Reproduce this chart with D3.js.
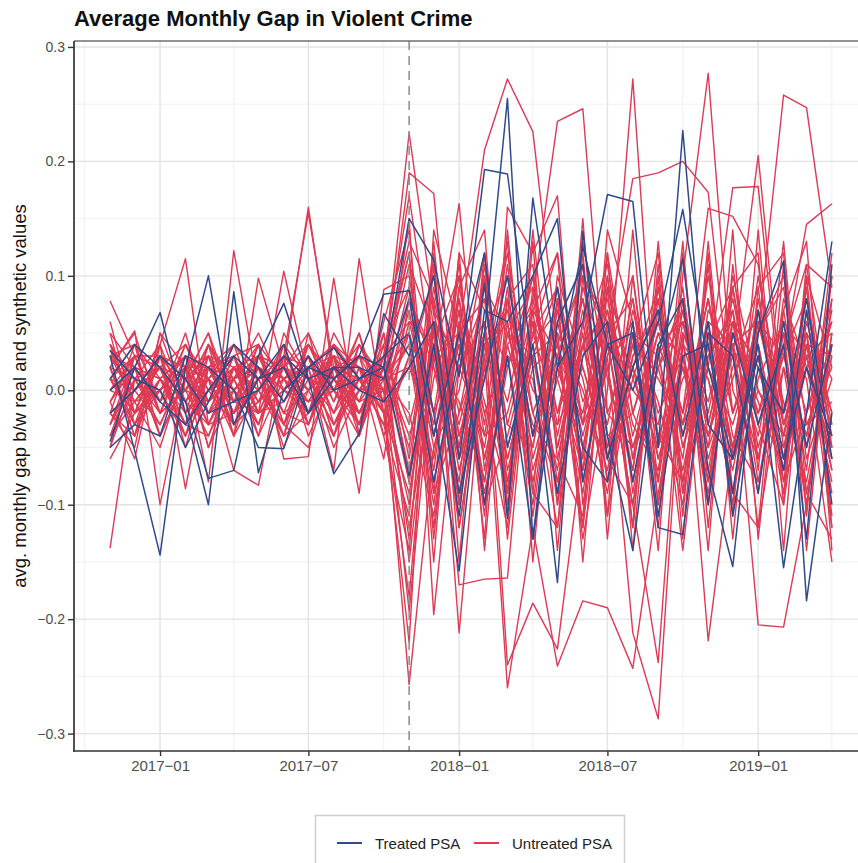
<!DOCTYPE html>
<html>
<head>
<meta charset="utf-8">
<script src="https://cdn.jsdelivr.net/npm/d3@7"></script>
<style>
body { margin: 0; background: #fff; }
svg { display: block; font-family: "Liberation Sans", Arial, sans-serif; }
</style>
</head>
<body>
<svg id="chart" width="858" height="863"></svg>
<script>
var months = ["2016-11","2016-12","2017-01","2017-02","2017-03","2017-04","2017-05","2017-06",
    "2017-07","2017-08","2017-09","2017-10","2017-11","2017-12","2018-01","2018-02","2018-03",
    "2018-04","2018-05","2018-06","2018-07","2018-08","2018-09","2018-10","2018-11","2018-12",
    "2019-01","2019-02","2019-03","2019-04"];

// treated PSAs (blue)
var treated = [
    [.03,-.053,-.144,.02,.10,-.03,.01,.04,-.02,.01,.03,.084,.087,-.02,-.158,.05,.255,-.13,.02,.06,.171,.165,-.05,.227,-.03,-.06,.04,-.155,-.02,.13],
    [-.045,.02,.068,-.02,-.10,.086,-.072,.00,.02,.037,.01,.02,.15,.114,.012,.193,.189,.02,-.168,.139,-.04,-.14,.03,.115,-.07,-.154,.05,.113,-.184,-.02],
    [.01,.04,.02,-.01,-.077,-.07,.03,.076,.01,-.073,-.038,.067,.03,.10,-.06,.093,-.112,.168,.02,.125,.04,.00,.06,.158,.02,-.06,.03,-.07,.07,-.10],
    [-.05,-.03,-.04,.03,.02,.00,-.05,-.051,.02,.01,.03,.02,-.075,.04,-.11,.07,.06,.10,.15,-.08,.04,.05,-.12,-.126,.05,.03,-.09,.06,-.05,.04],
    [.00,.02,-.01,-.03,.00,.03,.01,.02,-.02,.02,.02,.01,.08,-.04,.05,-.10,.03,-.13,.06,.11,-.06,.02,.07,-.04,.06,-.11,.02,-.02,.08,-.06],
    [.035,.01,.00,-.05,-.01,.04,.02,-.01,.03,.00,.01,.03,.05,-.08,.03,.12,-.05,.04,-.09,.03,.06,-.08,.04,.08,-.10,.05,-.03,.04,-.13,.11],
    [-.02,.00,.03,.01,-.02,-.01,.00,.03,.01,.02,.00,-.01,.02,.06,-.09,.01,.10,-.04,.09,-.05,-.08,.06,-.11,.03,.04,-.09,.07,-.06,.02,-.04]
];

// untreated PSAs (red)
var untreated = [
    [.078,.03,-.02,.04,.01,-.03,.02,.00,.03,-.02,.01,.02,.225,.07,-.05,.10,-.03,.06,-.08,.04,.11,-.02,-.07,.05,.01,-.09,.06,.03,-.04,.08],
    [-.138,.01,.02,-.03,.04,.00,-.02,.03,.01,.02,-.01,.00,-.257,-.05,.04,-.08,.05,.03,-.07,.09,.02,-.10,.04,-.02,.08,-.06,.00,-.05,.04,.03],
    [.06,-.02,.04,.115,-.03,.02,.01,-.04,.05,.00,.03,.02,.19,.172,-.06,.03,-.26,-.12,-.241,-.184,-.19,-.243,-.09,.03,-.09,.04,.06,-.03,.02,-.08],
    [.02,.052,-.10,.01,.03,-.04,.098,.02,-.03,.04,.00,.01,-.193,.03,.163,-.07,.05,.09,-.02,.04,-.06,.02,.09,-.04,.03,.06,-.08,.02,-.10,.05],
    [-.01,-.06,.04,-.086,.02,.03,-.02,.104,.01,-.03,.02,-.01,.15,-.196,.02,.06,-.24,-.186,-.226,-.05,.04,-.08,.02,.06,-.05,.01,.07,-.04,.03,-.06],
    [.04,.01,-.03,.02,-.08,.122,.00,.02,.16,.01,-.02,.03,.13,.08,-.212,.04,.07,-.04,.03,.10,.06,-.05,.02,-.07,.04,.09,-.03,.05,-.02,.04],
    [.00,.03,.02,-.01,.01,-.07,-.083,.03,.155,.02,.01,-.02,-.22,.14,.05,.21,.272,.226,.04,-.03,.12,-.02,.06,-.03,.02,-.05,.04,-.07,.05,.01],
    [.03,-.01,.00,.03,-.02,.01,.04,-.06,-.058,.098,-.04,.02,.12,-.15,.12,.07,.02,.08,.235,.246,-.02,.04,-.06,.02,-.04,.05,-.02,.06,.03,-.07],
    [-.03,.02,.01,-.04,.03,.02,-.01,.01,.02,-.07,.115,-.02,-.18,.06,-.17,-.165,-.164,.08,-.03,.02,-.06,.05,.01,-.03,.08,-.02,.06,-.04,-.03,.02],
    [.01,-.03,.03,.02,-.01,.04,.02,.00,-.02,.03,-.09,.088,.10,-.04,.07,-.13,.16,.12,.17,-.10,.03,-.212,-.287,.04,-.03,.07,-.05,.03,.08,-.04],
    [.02,.01,-.02,.03,.00,-.03,.01,.02,.00,.04,.02,-.06,.08,.02,-.05,.04,-.06,.03,.05,-.13,.00,.272,-.05,.02,-.04,.06,.02,-.06,.03,.05],
    [-.02,.04,.01,-.01,.02,.00,-.03,.02,.04,-.01,.03,.01,.05,-.07,.09,-.02,.03,-.10,.06,-.04,.05,.185,.19,.20,.173,-.02,.04,-.07,.02,-.03],
    [.01,-.02,.03,.00,-.04,.02,.03,-.01,.02,.01,-.03,.04,-.15,.04,-.03,.06,-.08,.05,-.02,.08,-.06,-.10,-.238,.05,-.219,-.05,.03,-.08,.06,-.02],
    [.05,.02,-.04,.01,.03,-.02,.00,.04,-.03,.02,.00,.03,.17,.02,-.08,.11,-.05,.03,.09,-.07,.02,.06,-.12,.10,.277,.00,-.06,.04,-.09,.03],
    [-.04,.00,.02,-.03,.01,.04,-.02,.03,.00,-.04,.02,.00,-.10,.06,.03,-.05,.08,-.02,.04,.10,-.08,.03,.07,-.05,.02,.177,.178,-.03,.05,-.07],
    [.03,.04,-.01,.02,-.05,.00,.03,.01,-.02,.05,.01,-.03,.06,-.03,.10,-.06,.04,.07,-.10,.03,.08,-.04,.05,-.02,.159,.152,.11,-.05,.02,.06],
    [-.02,-.04,.03,.00,.02,-.01,.04,-.03,.01,.00,-.02,.02,-.05,.09,-.04,.02,-.09,.05,.12,-.03,.07,-.06,.02,.08,-.04,.03,.205,-.02,.04,-.05],
    [.00,.02,-.01,.05,-.02,.03,-.04,.01,.03,-.02,.04,.01,.04,-.08,.02,.08,-.03,-.05,.07,.01,-.09,.05,.03,-.06,.10,-.02,.05,.258,.247,.09],
    [.02,-.03,.01,-.02,.04,.01,.02,-.05,.00,.03,-.01,.02,-.04,.03,-.09,.05,.10,-.04,.02,-.06,.09,.01,-.05,.07,-.03,.06,-.02,.03,.145,.163],
    [-.05,.01,.00,.02,-.03,-.02,.01,.03,-.04,.01,.03,-.04,.03,-.10,.06,-.02,-.12,.09,-.05,.04,-.03,.08,-.04,.02,-.07,.04,-.205,-.207,-.10,.05],
    [.035,-.01,.02,-.04,.00,.03,-.01,.02,.01,-.03,.00,.01,.11,.05,-.10,.03,.06,-.08,.03,-.02,.10,-.09,.04,-.14,.05,-.05,.07,-.01,-.08,.04],
    [.01,.00,-.03,.02,.03,-.02,.02,-.02,.04,.00,-.03,.03,-.07,.03,.05,-.09,.02,.10,-.04,.07,-.05,.02,-.08,.06,-.02,.09,-.06,.05,.01,-.15],
    [-.01,.03,.02,-.01,-.03,.01,.05,.00,-.01,.02,.02,-.02,.02,.10,-.04,.05,-.06,.03,-.09,.13,.01,-.07,.08,-.03,.06,-.05,.03,-.09,.07,-.02],
    [.04,-.02,.00,.03,.01,-.04,.00,.02,.05,-.03,.01,.00,-.12,.01,.08,-.03,.11,-.06,.02,-.05,.06,.00,-.03,.09,-.08,.04,-.04,.07,-.05,.10],
    [-.03,.01,.04,-.02,.00,.02,-.03,.04,-.02,.01,.04,-.01,.07,-.05,.00,.12,-.10,.04,.07,-.08,.03,.10,-.06,.01,.05,-.10,.08,-.03,.03,-.06],
    [.02,.05,-.02,.00,.04,-.01,.01,-.03,.02,.04,-.02,.03,-.03,.06,-.07,.02,.08,-.11,.05,.00,-.07,.04,.12,-.08,.03,.07,-.12,.02,-.04,.07],
    [-.06,-.02,.01,.03,-.02,.00,.02,.01,-.03,.03,.00,.04,.09,-.02,.04,-.06,.03,.01,-.12,.06,-.04,-.02,.05,.03,-.10,.06,.02,-.06,.09,-.11],
    [.00,-.01,-.05,.02,.01,.03,-.02,.00,.03,-.01,.05,-.02,-.09,.04,.10,-.04,-.02,.07,.03,-.09,.05,.08,-.10,.04,.01,-.07,.05,.10,-.03,-.01],
    [.03,.02,.01,-.03,-.04,.01,.03,-.02,.00,.02,-.02,.00,.04,-.09,-.02,.09,.05,-.03,-.06,.05,-.11,.03,.06,-.02,.08,-.04,-.08,.04,.11,-.05],
    [-.02,.00,.03,.01,.02,-.03,-.01,.04,.01,-.02,.03,.02,-.13,.07,.02,-.04,.09,-.07,.01,.08,-.02,-.05,.03,.07,-.06,.02,.09,-.08,-.02,.06],
    [.01,.03,-.02,.00,-.01,.02,.00,-.04,-.02,.04,.01,-.03,.03,-.06,.08,-.10,-.04,.05,.09,-.01,.04,-.07,.09,-.05,.04,-.09,.01,.06,-.07,.12],
    [.05,-.03,.00,.02,.02,-.02,.04,.01,-.01,.00,-.04,.03,.06,.04,-.06,.01,.12,-.02,-.08,.04,.07,-.03,-.07,.05,-.01,.08,-.03,-.10,.04,-.09],
    [-.04,.02,-.01,.04,.00,.01,-.03,.03,.02,-.05,.00,.01,-.02,-.11,.05,.08,-.07,.02,.04,-.12,.06,.02,-.04,-.08,.07,.03,-.06,.05,-.10,.04],
    [.02,-.04,.05,-.01,.03,.00,.02,-.02,-.03,.02,.03,-.01,.08,.03,-.01,-.08,.06,-.09,.10,.02,-.05,.07,-.02,.03,-.05,.10,.00,-.04,.08,-.03],
    [-.01,.02,-.04,.01,.05,-.01,-.02,.00,.04,.01,-.01,.05,-.06,.08,-.02,.05,-.01,.10,-.05,.06,-.08,.01,.08,-.09,.02,-.03,.05,.09,-.06,.01],
    [.01,-.02,.00,-.04,.02,.04,.01,.02,-.01,.03,.02,-.02,.05,-.02,.11,-.10,.04,-.05,.08,-.03,.02,-.10,.04,.06,-.03,-.06,.10,-.02,.05,-.12],
    [.03,.00,.02,.01,-.03,.02,-.02,-.01,.03,-.04,.01,.02,-.08,.05,-.12,.03,.07,.00,-.03,.11,-.06,.05,-.01,-.10,.06,.04,-.09,.08,.02,-.05],
    [-.05,.03,.03,-.02,.01,-.01,.03,.02,.00,.02,-.03,.01,.02,-.04,.07,-.01,-.09,.06,.01,-.07,.10,-.06,.07,.02,-.08,.05,-.01,-.07,.10,.02],
    [.02,-.04,.01,.03,-.05,.02,.00,-.03,.04,.01,-.02,.03,.12,-.13,.09,.14,-.11,.13,-.14,.10,.05,-.12,.13,-.09,.11,-.13,.09,.12,-.11,.10],
    [-.03,.03,-.02,.00,.04,-.04,.03,.02,-.02,.00,.05,-.04,-.14,.11,-.12,.02,.13,-.15,.08,-.12,.14,.06,-.14,.12,-.10,.14,-.13,.07,.13,-.14],
    [.04,.00,.03,-.05,.02,.01,-.04,.05,.01,.03,-.03,.06,.14,-.09,.12,-.14,.08,.11,-.10,.15,-.13,.10,-.08,.13,-.12,.09,.12,-.14,.10,-.12],
    [-.02,-.05,.05,.02,-.02,.03,.04,-.03,-.05,.02,.01,-.03,-.11,.12,-.15,.10,-.13,.07,.12,-.15,.09,-.12,.11,-.11,.13,-.09,-.12,.11,-.14,.08],
    [.01,.04,-.04,.01,.05,-.03,-.01,.01,.03,-.04,.04,.00,.09,-.12,.06,-.11,.14,-.09,-.12,.12,-.11,.14,-.10,.08,-.14,.11,-.07,.13,-.09,-.13],
    [-.04,-.01,.02,.04,-.01,.01,.02,-.04,.02,.03,-.04,.05,-.08,.13,-.10,.12,-.09,.14,-.06,-.11,.12,-.14,.10,-.13,.12,-.11,.14,-.10,.11,.09]
];

var yTicks = [-0.3, -0.2, -0.1, 0, 0.1, 0.2, 0.3];
var yMinor = [-0.25, -0.15, -0.05, 0.05, 0.15, 0.25];
var xTicks = ["2017-01", "2017-07", "2018-01", "2018-07", "2019-01"];
var xMinor = ["2016-10", "2017-04", "2017-10", "2018-04", "2018-10", "2019-04"];
var interventionMonth = "2017-11";
var legendLabels = ["Treated PSA", "Untreated PSA"];

var COL_TREATED = "#2f4a8c";
var COL_UNTREATED = "#dd3a53";

var parseMonth = d3.timeParse("%Y-%m");
var svg = d3.select("#chart");

// panel box (right edge runs past the window, like the reference)
var P = {left: 74, right: 868, top: 41, bottom: 751};

function expand(ext, f) {
    var pad = (ext[1] - ext[0]) * f;
    return [ext[0] - pad, ext[1] + pad];
}

var dates = months.map(parseMonth);
var dateExt = d3.extent(dates);
var dayPad = (dateExt[1] - dateExt[0]) * 0.05;
var x = d3.scaleTime()
    .domain([new Date(+dateExt[0] - dayPad), new Date(+dateExt[1] + dayPad)])
    .range([P.left, P.right]);

var allVals = d3.merge(treated.concat(untreated));
var y = d3.scaleLinear()
    .domain(expand(d3.extent(allVals), 0.05))
    .range([P.bottom, P.top]);

var defs = svg.append("defs");
defs.append("clipPath").attr("id", "panel-clip")
    .append("rect")
    .attr("x", P.left).attr("y", P.top)
    .attr("width", P.right - P.left).attr("height", P.bottom - P.top);

// grid
var grid = svg.append("g");
grid.selectAll("line.ymin").data(yMinor).enter().append("line")
    .attr("x1", P.left).attr("x2", P.right)
    .attr("y1", function(d) { return y(d); }).attr("y2", function(d) { return y(d); })
    .attr("stroke", "#ececec").attr("stroke-width", 0.8);
grid.selectAll("line.xmin").data(xMinor).enter().append("line")
    .attr("y1", P.top).attr("y2", P.bottom)
    .attr("x1", function(d) { return x(parseMonth(d)); }).attr("x2", function(d) { return x(parseMonth(d)); })
    .attr("stroke", "#ececec").attr("stroke-width", 0.8);
grid.selectAll("line.ymaj").data(yTicks).enter().append("line")
    .attr("x1", P.left).attr("x2", P.right)
    .attr("y1", function(d) { return y(d); }).attr("y2", function(d) { return y(d); })
    .attr("stroke", "#e3e3e3").attr("stroke-width", 1.4);
grid.selectAll("line.xmaj").data(xTicks).enter().append("line")
    .attr("y1", P.top).attr("y2", P.bottom)
    .attr("x1", function(d) { return x(parseMonth(d)); }).attr("x2", function(d) { return x(parseMonth(d)); })
    .attr("stroke", "#e3e3e3").attr("stroke-width", 1.4);

// series
var line = d3.line()
    .x(function(d, i) { return x(dates[i]); })
    .y(function(d) { return y(d); });

var plot = svg.append("g").attr("clip-path", "url(#panel-clip)");
plot.selectAll("path.untreated").data(untreated).enter().append("path")
    .attr("class", "untreated")
    .attr("d", line)
    .attr("fill", "none")
    .attr("stroke", COL_UNTREATED)
    .attr("stroke-width", 1.4)
    .attr("stroke-linejoin", "round");
plot.selectAll("path.treated").data(treated).enter().append("path")
    .attr("class", "treated")
    .attr("d", line)
    .attr("fill", "none")
    .attr("stroke", COL_TREATED)
    .attr("stroke-width", 1.5)
    .attr("stroke-linejoin", "round");

// intervention marker
var xv = x(parseMonth(interventionMonth));
svg.append("line")
    .attr("x1", xv).attr("x2", xv).attr("y1", P.top).attr("y2", P.bottom)
    .attr("stroke", "#8a8a8a").attr("stroke-width", 1.5)
    .attr("stroke-dasharray", "9,6");

// panel border: grey top, dark axis lines left/bottom
svg.append("line").attr("x1", P.left).attr("x2", P.right).attr("y1", P.top).attr("y2", P.top)
    .attr("stroke", "#6e6e6e").attr("stroke-width", 1.3);
svg.append("line").attr("x1", P.left).attr("x2", P.left).attr("y1", P.top).attr("y2", P.bottom + 0.7)
    .attr("stroke", "#333").attr("stroke-width", 1.7);
svg.append("line").attr("x1", P.left - 0.8).attr("x2", P.right).attr("y1", P.bottom).attr("y2", P.bottom)
    .attr("stroke", "#333").attr("stroke-width", 1.7);

// axes
var yAxis = svg.append("g")
    .attr("transform", "translate(" + P.left + ",0)")
    .call(d3.axisLeft(y).tickValues(yTicks).tickSize(6).tickPadding(3).tickFormat(d3.format(".1f")));
yAxis.select(".domain").remove();
yAxis.selectAll(".tick line").attr("stroke", "#333").attr("stroke-width", 1.4);
yAxis.selectAll(".tick text")
    .attr("fill", "#4d4d4d").style("font-size", "14px")
    .style("font-family", "'Liberation Sans', Arial, sans-serif");

var xAxis = svg.append("g")
    .attr("transform", "translate(0," + P.bottom + ")")
    .call(d3.axisBottom(x).tickValues(xTicks.map(parseMonth)).tickSize(5).tickPadding(4)
        .tickFormat(function(d) { return d3.timeFormat("%Y")(d) + "\u2212" + d3.timeFormat("%m")(d); }));
xAxis.select(".domain").remove();
xAxis.selectAll(".tick line").attr("stroke", "#333").attr("stroke-width", 1.4);
xAxis.selectAll(".tick text")
    .attr("fill", "#4d4d4d").style("font-size", "15px")
    .style("font-family", "'Liberation Sans', Arial, sans-serif");

// titles
svg.append("text")
    .attr("x", P.left).attr("y", 26)
    .attr("font-size", 22).attr("font-weight", "bold").attr("fill", "#111")
    .text("Average Monthly Gap in Violent Crime");

svg.append("text")
    .attr("transform", "translate(26," + ((P.top + P.bottom) / 2) + ") rotate(-90)")
    .attr("text-anchor", "middle")
    .attr("font-size", 18.5).attr("fill", "#111")
    .text("avg. monthly gap b/w real and synthetic values");

// legend
var lg = svg.append("g");
lg.append("rect")
    .attr("x", 315.5).attr("y", 815.5).attr("width", 309).attr("height", 70)
    .attr("fill", "#fff").attr("stroke", "#cfcfcf").attr("stroke-width", 1.5);
var legendItems = [
    {label: legendLabels[0], colour: COL_TREATED, x: 337},
    {label: legendLabels[1], colour: COL_UNTREATED, x: 474}
];
var li = lg.selectAll("g.item").data(legendItems).enter().append("g")
    .attr("transform", function(d) { return "translate(" + d.x + ",843)"; });
li.append("line").attr("x1", 0).attr("x2", 25).attr("y1", 0).attr("y2", 0)
    .attr("stroke", function(d) { return d.colour; }).attr("stroke-width", 2);
li.append("text").attr("x", 38).attr("y", 5.5)
    .attr("font-size", 15).attr("fill", "#222")
    .text(function(d) { return d.label; });
</script>
</body>
</html>
